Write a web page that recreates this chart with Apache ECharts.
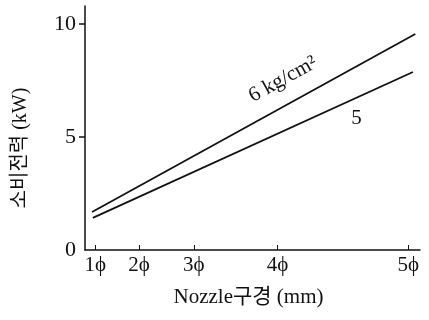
<!DOCTYPE html>
<html>
<head>
<meta charset="utf-8">
<script src="https://cdn.jsdelivr.net/npm/echarts@6/dist/echarts.min.js"></script>
<style>
  html, body { margin: 0; padding: 0; background: #fff; }
  #chart { width: 429px; height: 320px; }
</style>
</head>
<body>
<div id="chart"></div>
<script>
// nozzle diameter ticks sit on a non-uniform scale (1φ = 1, 5φ = 5)
const tickPos = [1, 1.56, 2.26, 3.33, 5];
const tickLabels = ["1\u03d5", "2\u03d5", "3\u03d5", "4\u03d5", "5\u03d5"];

// line end points [scale position, kW]
const line6 = [[0.96, 1.68], [5.09, 9.56]];
const line5 = [[0.97, 1.42], [5.06, 7.88]];

const yTicks = [5, 10];
const yLabels = [0, 5, 10];

const font = "'Liberation Serif', 'DejaVu Serif', 'Noto Sans CJK KR', serif";
const ink = "#111";

const chart = echarts.init(document.getElementById("chart"));

const option = {
  animation: false,
  backgroundColor: "#fff",
  grid: { left: 85, right: 9, top: 6, bottom: 70 },
  xAxis: {
    type: "value",
    min: 0.87,
    max: 5.15,
    name: "Nozzle구경 (mm)",
    nameLocation: "middle",
    nameGap: 37,
    nameTextStyle: { fontFamily: font, fontSize: 21, color: ink, padding: [0, 8, 0, 0] },
    axisLine: { lineStyle: { color: ink, width: 1.5 } },
    axisTick: {
      inside: true,
      length: 5,
      customValues: tickPos,
      lineStyle: { color: ink, width: 1 }
    },
    axisLabel: {
      customValues: tickPos,
      formatter: (v) => {
        const i = tickPos.indexOf(v);
        return i >= 0 ? tickLabels[i] : "";
      },
      fontFamily: font,
      fontSize: 21,
      color: ink,
      margin: 5
    },
    splitLine: { show: false }
  },
  yAxis: {
    type: "value",
    min: 0,
    max: 10.8,
    name: "소비전력 (kW)",
    nameLocation: "middle",
    nameRotate: 90,
    nameGap: 54,
    nameTextStyle: { fontFamily: font, fontSize: 20, color: ink, padding: [0, 40, 0, 0] },
    axisLine: { show: true, lineStyle: { color: ink, width: 1.5 } },
    axisTick: {
      show: true,
      length: 6,
      customValues: yTicks,
      lineStyle: { color: ink, width: 1.5 }
    },
    axisLabel: {
      customValues: yLabels,
      fontFamily: font,
      fontSize: 22,
      color: ink,
      margin: 9
    },
    splitLine: { show: false }
  },
  series: [
    {
      type: "line",
      data: line6,
      symbol: "none",
      lineStyle: { color: ink, width: 1.8 },
      markPoint: {
        symbol: "circle",
        symbolSize: 0,
        data: [{ coord: [3.4, 7.55] }],
        label: {
          show: true,
          formatter: "6 kg/cm\u00b2",
          rotate: 29,
          fontFamily: font,
          fontSize: 21,
          color: ink,
          position: "inside"
        }
      }
    },
    {
      type: "line",
      data: line5,
      symbol: "none",
      lineStyle: { color: ink, width: 1.8 },
      markPoint: {
        symbol: "circle",
        symbolSize: 0,
        data: [{ coord: [4.34, 5.84] }],
        label: {
          show: true,
          formatter: "5",
          fontFamily: font,
          fontSize: 21,
          color: ink,
          position: "inside"
        }
      }
    }
  ]
};

chart.setOption(option);
</script>
</body>
</html>
